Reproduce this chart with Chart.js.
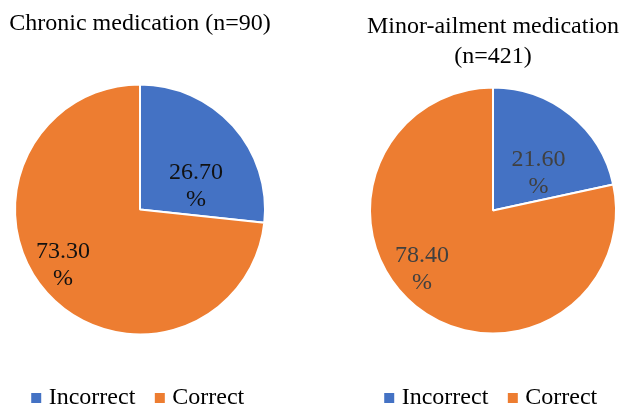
<!DOCTYPE html>
<html>
<head>
<meta charset="utf-8">
<script src="https://cdn.jsdelivr.net/npm/chart.js@4"></script>
<style>
  html, body { margin: 0; padding: 0; background: #fff; overflow: hidden; width: 623px; height: 408px; }
  .box { position: absolute; top: 0; height: 420px; }
  #b1 { left: 0px; width: 280px; }
  #b2 { left: 363px; width: 260px; }
</style>
</head>
<body>
<div class="box" id="b1"><canvas id="c1"></canvas></div>
<div class="box" id="b2"><canvas id="c2"></canvas></div>
<script>
const categories = ['Incorrect', 'Correct'];
const chronicValues = [26.70, 73.30];
const minorValues = [21.60, 78.40];
const chronicTitle = 'Chronic medication (n=90)';
const minorTitle = ['Minor-ailment medication', '(n=421)'];
const sliceColors = ['#4472C4', '#ED7D31'];

const FONT = "'Times New Roman', 'Liberation Serif', serif";

// label placement styles: angle offset (deg) from slice mid-angle, fraction of radius
const labelPlugin = {
  id: 'sliceLabels',
  afterDatasetsDraw(chart, args, opts) {
    const ctx = chart.ctx;
    const meta = chart.getDatasetMeta(0);
    const data = chart.data.datasets[0].data;
    ctx.save();
    ctx.font = '24px ' + FONT;
    ctx.fillStyle = opts.color;
    ctx.textAlign = 'center';
    ctx.textBaseline = 'middle';
    meta.data.forEach((arc, i) => {
      const p = arc.getProps(['x', 'y', 'startAngle', 'endAngle', 'outerRadius'], true);
      const a = (p.startAngle + p.endAngle) / 2 + opts.angleOffsets[i] * Math.PI / 180;
      const r = p.outerRadius * opts.radiusFractions[i];
      const cx = p.x + Math.cos(a) * r;
      const cy = p.y + Math.sin(a) * r;
      ctx.fillText(data[i].toFixed(2), cx, cy - 13.5);
      ctx.fillText('%', cx, cy + 13.5);
    });
    ctx.restore();
  }
};

function makePie(id, values, title, radius, titlePad, labelOpts) {
  return new Chart(document.getElementById(id), {
    type: 'pie',
    data: {
      labels: categories,
      datasets: [{
        data: values,
        backgroundColor: sliceColors,
        borderColor: '#ffffff',
        borderWidth: 2,
        radius: radius
      }]
    },
    options: {
      responsive: true,
      maintainAspectRatio: false,
      animation: false,
      events: [],
      layout: { padding: 0 },
      plugins: {
        title: {
          display: true,
          text: title,
          color: '#000000',
          font: { family: FONT, size: 24, weight: 'normal', lineHeight: Array.isArray(title) ? 1.25 : 1.2 },
          padding: titlePad
        },
        legend: {
          display: true,
          position: 'bottom',
          labels: {
            color: '#000000',
            font: { family: FONT, size: 24 },
            usePointStyle: true,
            pointStyle: 'rect',
            boxWidth: 1,
            boxHeight: 10,
            padding: 24,
            generateLabels(chart) {
              const items = Chart.overrides.pie.plugins.legend.labels.generateLabels(chart);
              items.forEach(it => { it.lineWidth = 0; });
              return items;
            }
          }
        },
        tooltip: { enabled: false },
        sliceLabels: labelOpts
      }
    },
    plugins: [labelPlugin]
  });
}

makePie('c1', chronicValues, chronicTitle, 125, { top: 9, bottom: 19 },
  { color: '#111111', angleOffsets: [19, 6], radiusFractions: [0.486, 0.762] });
makePie('c2', minorValues, minorTitle, 123, { top: 12, bottom: -13 },
  { color: '#404040', angleOffsets: [12, 11.6], radiusFractions: [0.476, 0.748] });
</script>
</body>
</html>
